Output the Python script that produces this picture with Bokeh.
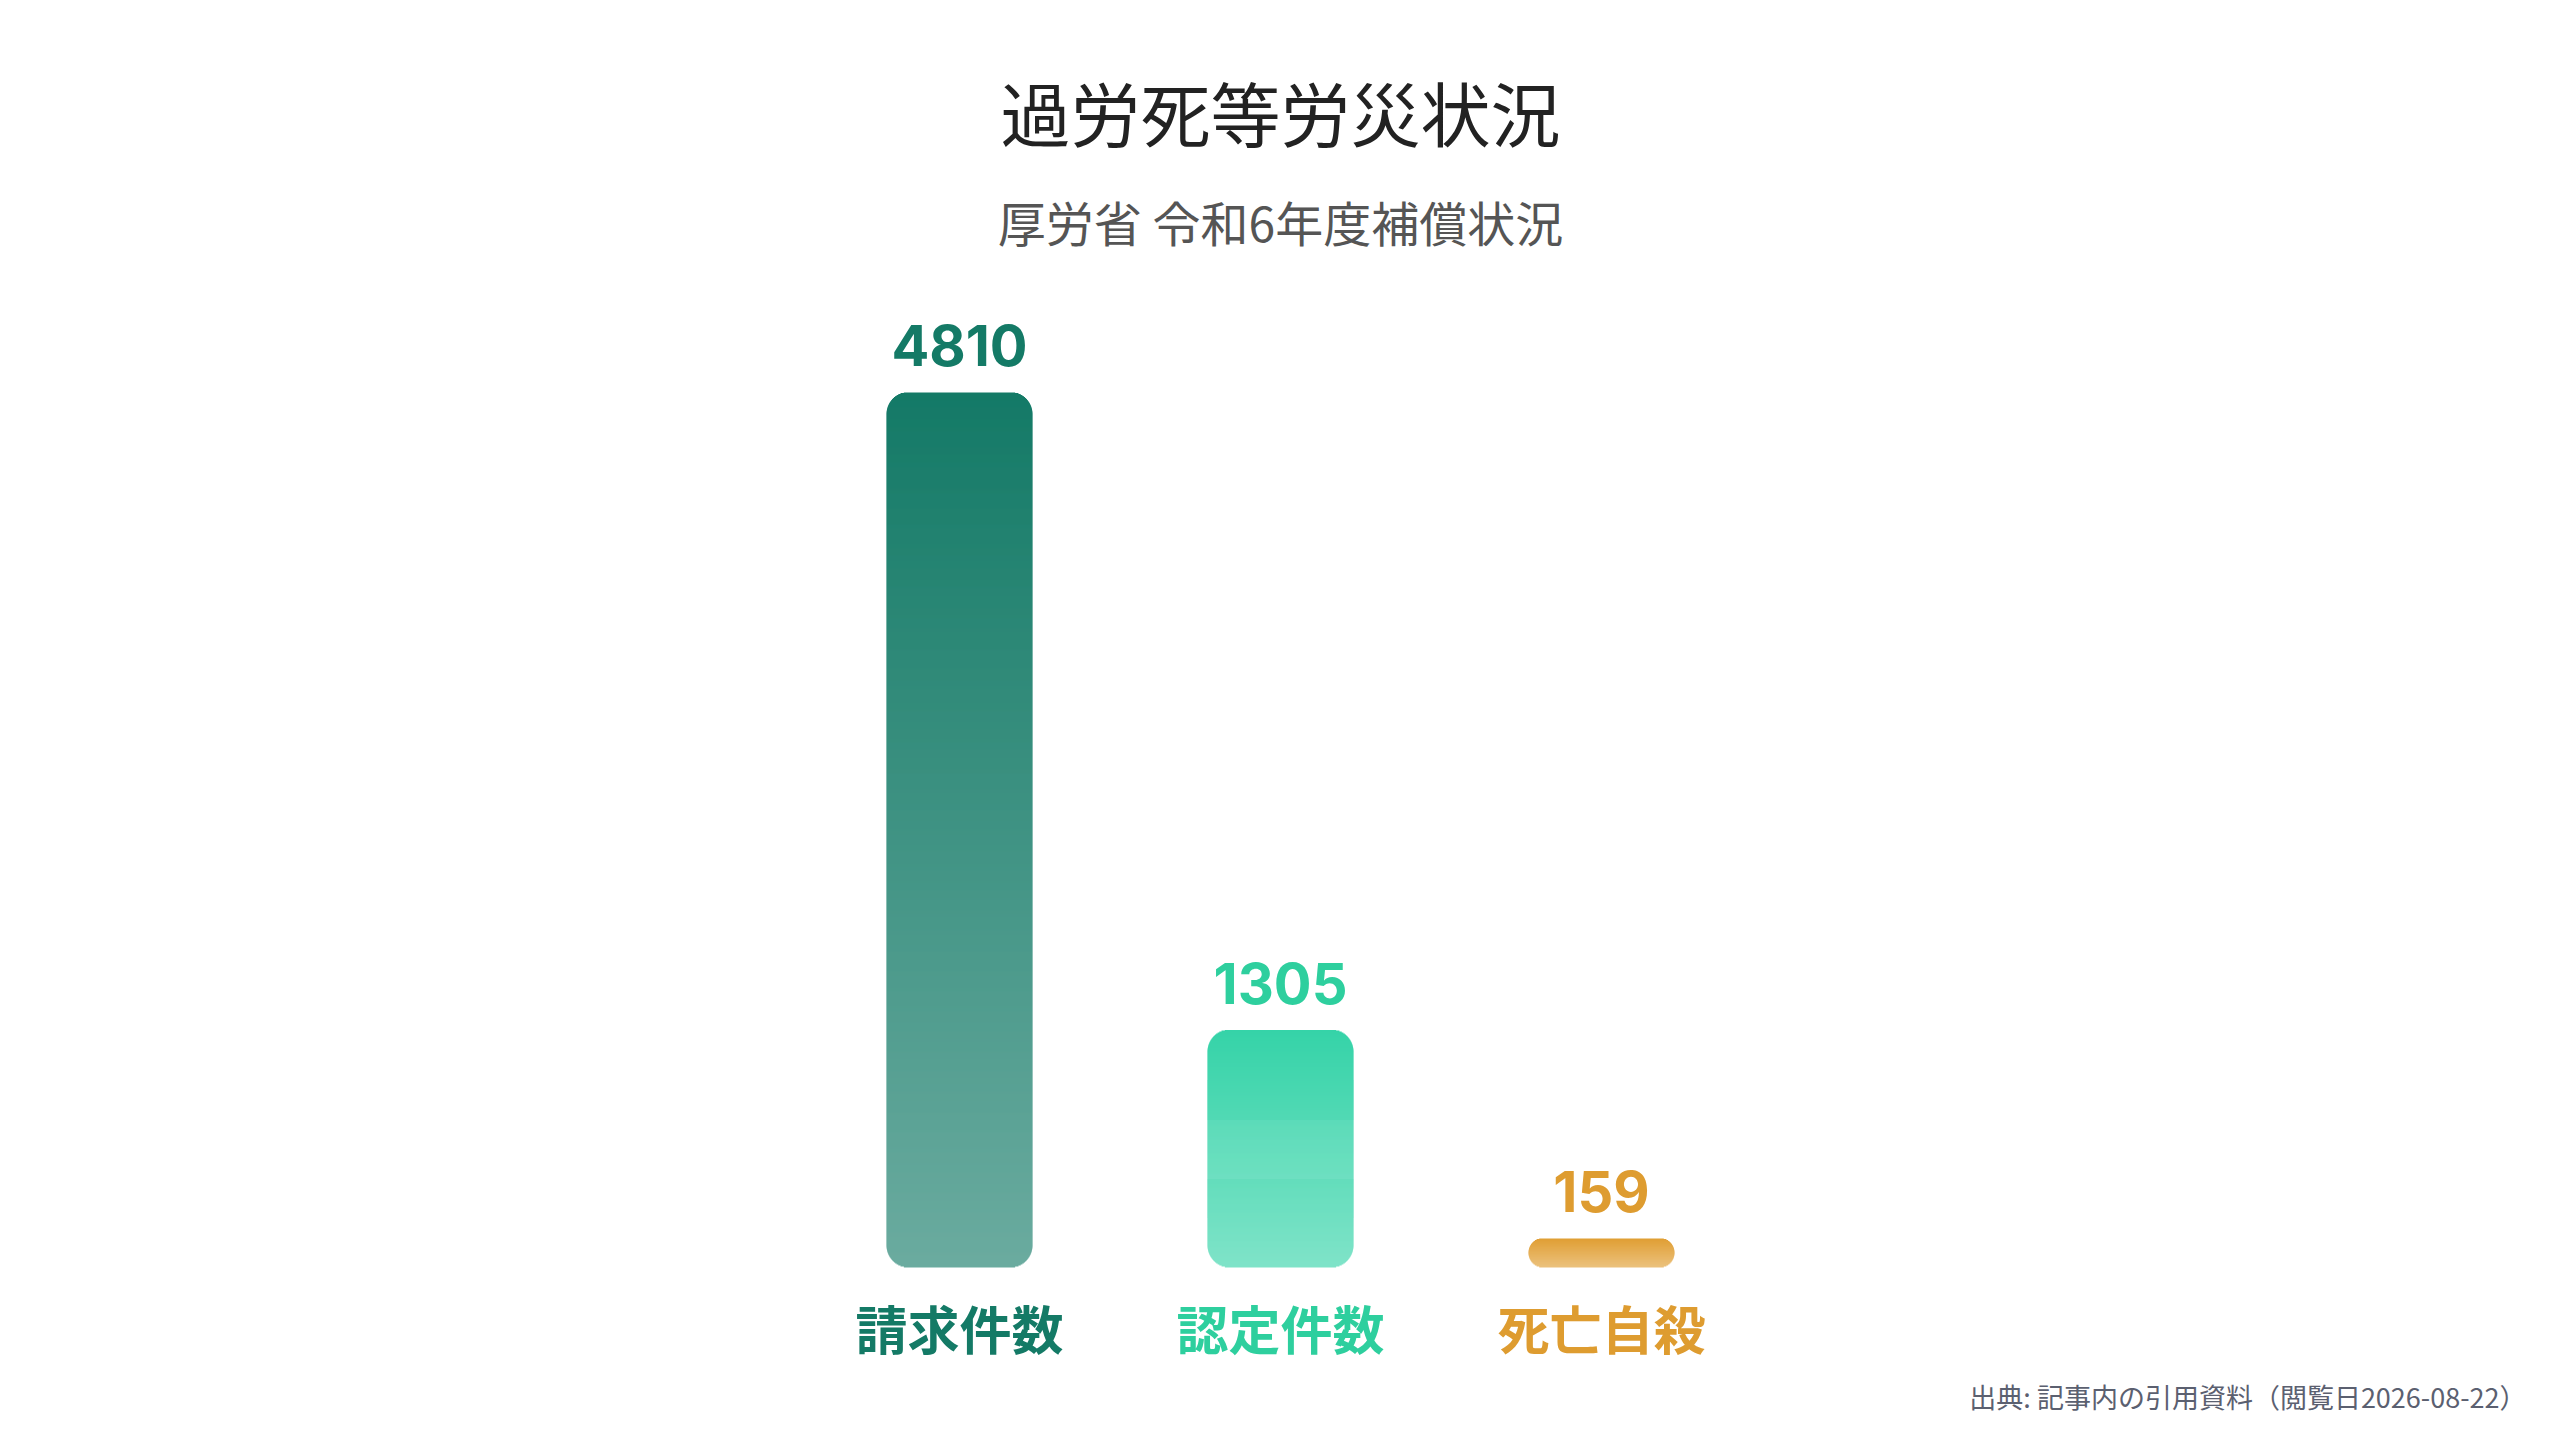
import math
from bokeh.plotting import figure
from bokeh.models import Range1d, Label, ColumnDataSource
from bokeh.core.properties import value
from bokeh.embed import file_html
from bokeh.resources import INLINE

# ---- data ----
categories = ["請求件数", "認定件数", "死亡自殺"]
counts = [4810, 1305, 159]
value_labels = ["4810", "1305", "159"]
bar_colors = ["#147a67", "#35d3a8", "#e09e33"]
label_colors = ["#147a66", "#2ecf9e", "#de9c30"]
title_text = "過労死等労災状況"
subtitle_text = "厚労省 令和6年度補償状況"
source_text = "出典: 記事内の引用資料（閲覧日2026-08-22）"

# ---- layout (pixels, relative to the figure's top-left corner) ----
W, H = 2544, 1424
zero_y = 1267
max_y = 392
center0_x = 959
step_px = 321
bar_w_px = 146
radius_px = 22
bottom_alpha = 0.63

s = (zero_y - max_y) / max(counts)  # px per unit

x_range = Range1d(-center0_x / step_px, (W - center0_x) / step_px)
y_range = Range1d(-(H - zero_y) / s, zero_y / s)

p = figure(width=W, height=H, output_backend="svg", toolbar_location=None,
           x_range=x_range, y_range=y_range, x_axis_type=None, y_axis_type=None,
           min_border=0, background_fill_color="white", border_fill_color="white")
p.grid.visible = False
p.outline_line_color = None


def blend(hexcol, a):
    r, g, b = int(hexcol[1:3], 16), int(hexcol[3:5], 16), int(hexcol[5:7], 16)
    r = round(r * a + 255 * (1 - a))
    g = round(g * a + 255 * (1 - a))
    b = round(b * a + 255 * (1 - a))
    return "#%02x%02x%02x" % (r, g, b)


xs, bottoms, tops, widths, fills = [], [], [], [], []
for i, (c, col) in enumerate(zip(counts, bar_colors)):
    hpx = c * s
    n = max(int(math.ceil(hpx)), 1)
    h = hpx / n
    r = min(radius_px, hpx / 2, bar_w_px / 2)
    for k in range(n):
        yc = (k + 0.5) * h
        d = min(yc, hpx - yc)
        inset = 0.0
        if d < r:
            inset = r - math.sqrt(max(r * r - (r - d) ** 2, 0.0))
        wpx = bar_w_px - 2 * inset
        t = yc / hpx
        a = bottom_alpha + (1 - bottom_alpha) * t
        xs.append(i)
        bottoms.append(k * h / s)
        tops.append(min((k + 1) * h + 0.6, hpx) / s)
        widths.append(wpx / step_px)
        fills.append(blend(col, a))

strips = ColumnDataSource(dict(x=xs, bottom=bottoms, top=tops, width=widths, fill=fills))
p.vbar(x="x", bottom="bottom", top="top", width="width", source=strips,
       fill_color="fill", line_color=None)

idx = list(range(len(categories)))
vsrc = ColumnDataSource(dict(x=idx, y=counts, text=value_labels, color=label_colors))
p.text(x="x", y="y", text="text", source=vsrc, text_color="color",
       text_align="center", text_baseline="alphabetic", y_offset=-47,
       text_font=value("Inter"), text_font_style="bold", text_font_size="56px")

csrc = ColumnDataSource(dict(x=idx, y=[0] * len(idx), text=categories, color=label_colors))
p.text(x="x", y="y", text="text", source=csrc, text_color="color",
       text_align="center", text_baseline="middle", y_offset=60,
       text_font=value("Noto Sans CJK JP"), text_font_style="bold", text_font_size="52px")

p.add_layout(Label(x=1280, y=H - 110.5, x_units="screen", y_units="screen",
                   text=title_text, text_align="center", text_baseline="middle",
                   text_font="Noto Sans CJK JP", text_font_size="70px", text_color="#222222"))
p.add_layout(Label(x=1280, y=H - 220.5, x_units="screen", y_units="screen",
                   text=subtitle_text, text_align="center", text_baseline="middle",
                   text_font="Noto Sans CJK JP", text_font_size="48px", text_color="#555555"))
p.add_layout(Label(x=2526, y=H - 1396, x_units="screen", y_units="screen",
                   text=source_text, text_align="right", text_baseline="middle",
                   text_font="Noto Sans CJK JP", text_font_size="27px", text_color="#5b6070"))

open("out.html", "w").write(file_html(p, INLINE))
